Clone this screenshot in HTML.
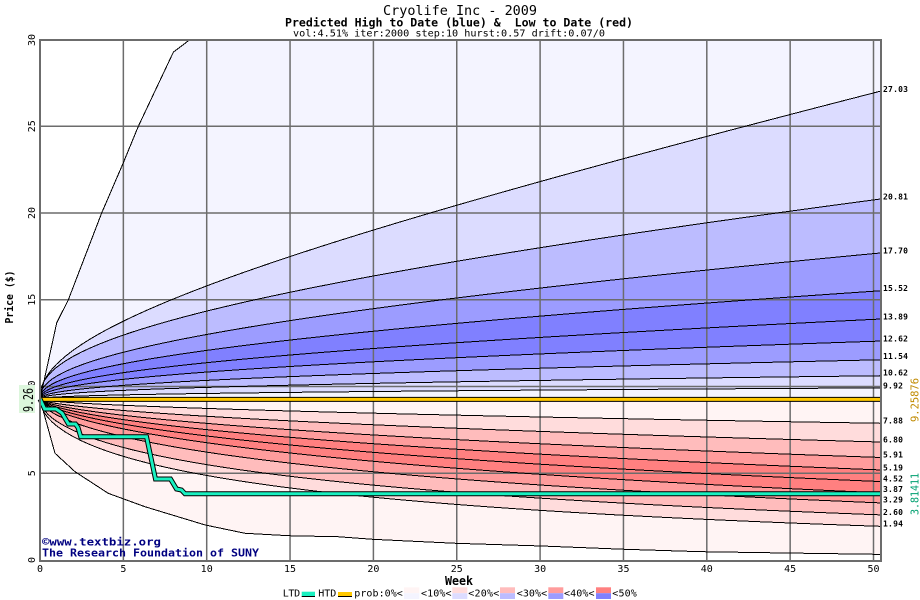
<!DOCTYPE html>
<html><head><meta charset="utf-8">
<style>
html,body{margin:0;padding:0;background:#fff;}
svg{display:block;}
text{font-family:"DejaVu Sans Mono","Liberation Mono",monospace;}
</style></head><body>
<svg id="c" xmlns="http://www.w3.org/2000/svg" width="920" height="600" viewBox="0 0 920 600">
<defs><clipPath id="pc"><rect x="40" y="40" width="841" height="520"/></clipPath></defs>
<rect width="920" height="600" fill="#fff"/>
<g id="fills" clip-path="url(#pc)"></g>
<g id="grid" stroke="#6c6c6c" stroke-width="1.5">
<line x1="123.35" y1="40" x2="123.35" y2="560"/>
<line x1="206.7" y1="40" x2="206.7" y2="560"/>
<line x1="290.05" y1="40" x2="290.05" y2="560"/>
<line x1="373.4" y1="40" x2="373.4" y2="560"/>
<line x1="456.75" y1="40" x2="456.75" y2="560"/>
<line x1="540.1" y1="40" x2="540.1" y2="560"/>
<line x1="623.45" y1="40" x2="623.45" y2="560"/>
<line x1="706.8" y1="40" x2="706.8" y2="560"/>
<line x1="790.15" y1="40" x2="790.15" y2="560"/>
<line x1="873.5" y1="40" x2="873.5" y2="560"/>
<line x1="40" y1="473.25" x2="881" y2="473.25"/>
<line x1="40" y1="386.5" x2="881" y2="386.5"/>
<line x1="40" y1="299.75" x2="881" y2="299.75"/>
<line x1="40" y1="213" x2="881" y2="213"/>
<line x1="40" y1="126.25" x2="881" y2="126.25"/>
</g>
<g id="curves" clip-path="url(#pc)" fill="none" stroke="#000" stroke-width="1" shape-rendering="crispEdges"></g>
<line x1="40" y1="399.4" x2="881" y2="399.4" stroke="#000" stroke-width="5"/>
<line x1="40" y1="399.4" x2="881" y2="399.4" stroke="#ffc800" stroke-width="3"/>
<polyline fill="none" stroke="#000" stroke-width="5" points="40,399 44.7,409 56,409 62,413 68.5,424 75.5,424 78,427.5 80.7,436.7 146.5,436.7 155.5,479 170.5,479 176.5,489 181.5,490 185,493.8 881,493.8"/>
<polyline fill="none" stroke="#18f0c0" stroke-width="3" points="40,399 44.7,409 56,409 62,413 68.5,424 75.5,424 78,427.5 80.7,436.7 146.5,436.7 155.5,479 170.5,479 176.5,489 181.5,490 185,493.8 881,493.8"/>
<rect x="40" y="40" width="841" height="521" fill="none" stroke="#6c6c6c" stroke-width="2"/>

<!-- title -->
<text x="460" y="15" text-anchor="middle" font-size="13.5" textLength="154" lengthAdjust="spacingAndGlyphs">Cryolife Inc - 2009</text>
<text x="459" y="26.5" text-anchor="middle" font-size="11.5" font-weight="bold" textLength="348" lengthAdjust="spacingAndGlyphs" style="white-space:pre">Predicted High to Date (blue) &amp;  Low to Date (red)</text>
<text x="449" y="36.5" text-anchor="middle" font-size="10" textLength="312" lengthAdjust="spacingAndGlyphs">vol:4.51% iter:2000 step:10 hurst:0.57 drift:0.07/0</text>

<!-- y ticks -->
<g font-size="10" text-anchor="middle">
<text transform="translate(35,40) rotate(-90)">30</text>
<text transform="translate(35,126.25) rotate(-90)">25</text>
<text transform="translate(35,213) rotate(-90)">20</text>
<text transform="translate(35,299.75) rotate(-90)">15</text>
<text transform="translate(35,386.5) rotate(-90)">10</text>
<text transform="translate(35,473.25) rotate(-90)">5</text>
<text transform="translate(35,560) rotate(-90)">0</text>
</g>
<rect x="19" y="385" width="16" height="28" fill="#dcf6dc"/>
<text transform="translate(33,400) rotate(-90)" text-anchor="middle" font-size="13" textLength="24" lengthAdjust="spacingAndGlyphs">9.26</text>
<text transform="translate(13,297) rotate(-90)" text-anchor="middle" font-size="11" font-weight="bold" textLength="53" lengthAdjust="spacingAndGlyphs">Price ($)</text>

<!-- x ticks -->
<g font-size="10" text-anchor="middle">
<text x="40" y="572">0</text>
<text x="123.35" y="572">5</text>
<text x="206.7" y="572">10</text>
<text x="290.05" y="572">15</text>
<text x="373.4" y="572">20</text>
<text x="456.75" y="572">25</text>
<text x="540.1" y="572">30</text>
<text x="623.45" y="572">35</text>
<text x="706.8" y="572">40</text>
<text x="790.15" y="572">45</text>
<text x="873.5" y="572">50</text>
</g>
<text x="459" y="585" text-anchor="middle" font-size="12" font-weight="bold" textLength="28" lengthAdjust="spacingAndGlyphs">Week</text>

<!-- right labels -->
<g font-size="8" font-weight="bold" lengthAdjust="spacingAndGlyphs">
<text x="883" y="92" textLength="25">27.03</text>
<text x="883" y="199.4" textLength="25">20.81</text>
<text x="883" y="253.7" textLength="25">17.70</text>
<text x="883" y="291" textLength="25">15.52</text>
<text x="883" y="319.7" textLength="25">13.89</text>
<text x="883" y="341.4" textLength="25">12.62</text>
<text x="883" y="359" textLength="25">11.54</text>
<text x="883" y="375.4" textLength="25">10.62</text>
<text x="883" y="388.4" textLength="20">9.92</text>
<text x="883" y="423.7" textLength="20">7.88</text>
<text x="883" y="442.7" textLength="20">6.80</text>
<text x="883" y="457.7" textLength="20">5.91</text>
<text x="883" y="470.4" textLength="20">5.19</text>
<text x="883" y="481.7" textLength="20">4.52</text>
<text x="883" y="492" textLength="20">3.87</text>
<text x="883" y="502.7" textLength="20">3.29</text>
<text x="883" y="515" textLength="20">2.60</text>
<text x="883" y="526.7" textLength="20">1.94</text>
</g>
<text transform="translate(918.5,400) rotate(-90)" text-anchor="middle" font-size="11" fill="#c08a00" textLength="44" lengthAdjust="spacingAndGlyphs">9.25876</text>
<text transform="translate(918.5,494) rotate(-90)" text-anchor="middle" font-size="11" fill="#00a070" textLength="42" lengthAdjust="spacingAndGlyphs">3.81411</text>

<!-- copyright -->
<text x="42" y="545.5" font-size="11" font-weight="bold" fill="#000080" textLength="119" lengthAdjust="spacingAndGlyphs">©www.textbiz.org</text>
<text x="42" y="556.5" font-size="11" font-weight="bold" fill="#000080" textLength="217" lengthAdjust="spacingAndGlyphs">The Research Foundation of SUNY</text>

<!-- legend -->
<g font-size="10" lengthAdjust="spacingAndGlyphs">
<text x="282.7" y="596.5" textLength="17.5">LTD</text>
<rect x="301.7" y="591.7" width="13.3" height="4.5" fill="#18f0c0"/>
<line x1="301.7" y1="596.5" x2="315" y2="596.5" stroke="#000" stroke-width="1"/>
<text x="318.3" y="596.5" textLength="18">HTD</text>
<rect x="338" y="592" width="14" height="4.5" fill="#ffc800"/>
<line x1="338" y1="596.5" x2="352" y2="596.5" stroke="#000" stroke-width="1"/>
<text x="354.3" y="596.5" textLength="48.5">prob:0%&lt;</text>
<rect x="404" y="587.3" width="15.3" height="5.9" fill="#fff4f4"/>
<rect x="404" y="593.2" width="15.3" height="5.8" fill="#f4f4ff"/>
<text x="421" y="596.5" textLength="30.5">&lt;10%&lt;</text>
<rect x="452.3" y="587.3" width="15" height="5.9" fill="#ffdcdc"/>
<rect x="452.3" y="593.2" width="15" height="5.8" fill="#dcdcff"/>
<text x="468.3" y="596.5" textLength="31">&lt;20%&lt;</text>
<rect x="500" y="587.3" width="15" height="5.9" fill="#ffbcbc"/>
<rect x="500" y="593.2" width="15" height="5.8" fill="#bcbcff"/>
<text x="516.7" y="596.5" textLength="30.5">&lt;30%&lt;</text>
<rect x="548.3" y="587.3" width="15" height="5.9" fill="#ff9c9c"/>
<rect x="548.3" y="593.2" width="15" height="5.8" fill="#9c9cff"/>
<text x="564" y="596.5" textLength="30.5">&lt;40%&lt;</text>
<rect x="596" y="587.3" width="15" height="5.9" fill="#ff8080"/>
<rect x="596" y="593.2" width="15" height="5.8" fill="#8080ff"/>
<text x="612.3" y="596.5" textLength="24.5">&lt;50%</text>
</g>
</svg>
<script>
(function(){
var NS='http://www.w3.org/2000/svg';
function X(t){return 40+16.67*t;}
function Y(v){return 560-17.35*v;}
var T=50.45,B=9.26;
var ts=[0,0.05,0.1,0.2,0.3,0.5,0.75];
for(var t=1;t<=50;t+=0.5)ts.push(t);
ts.push(T);
function logCurve(end,p){
  var L=Math.log(end/B);
  return ts.map(function(t){return [t,B*Math.exp(L*Math.pow(t/T,p))];});
}
var top=[[0,9.26],[1,13.66],[1.7,15.0],[3.7,20.0],[5,22.9],[5.9,25.0],[8,29.27],[9,30.0],[12,32],[T,45]];
var bot=[[0,9.26],[0.9,6.15],[2.1,5.09],[4.1,3.84],[6.3,3.07],[9.9,2.02],[12.3,1.54],[14.9,1.4],[17.9,1.34],[20,1.19],[25,0.96],[30,0.81],[35,0.62],[39.6,0.48],[45,0.4],[50,0.33],[T,0.32]];
var c10b='#f4f4ff',c20b='#dcdcff',c30b='#bcbcff',c40b='#9c9cff',c50b='#8080ff';
var c10r='#fff4f4',c20r='#ffdcdc',c30r='#ffbcbc',c40r='#ff9c9c',c50r='#ff8080';
var series=[
 {pts:top,fill:c10b},
 {pts:logCurve(27.03,0.43),fill:c20b},
 {pts:logCurve(20.81,0.38),fill:c30b},
 {pts:logCurve(17.70,0.40),fill:c40b},
 {pts:logCurve(15.52,0.41),fill:c50b},
 {pts:logCurve(13.89,0.42),fill:c50b},
 {pts:logCurve(12.62,0.42),fill:c40b},
 {pts:logCurve(11.54,0.42),fill:c30b},
 {pts:logCurve(10.62,0.40),fill:c20b},
 {pts:logCurve(9.92,0.40),fill:c10b},
 {pts:bot,fill:c10r},
 {pts:logCurve(1.94,0.55),fill:c20r},
 {pts:logCurve(2.60,0.55),fill:c30r},
 {pts:logCurve(3.29,0.59),fill:c40r},
 {pts:logCurve(3.87,0.63),fill:c50r},
 {pts:logCurve(4.52,0.63),fill:c50r},
 {pts:logCurve(5.19,0.63),fill:c40r},
 {pts:logCurve(5.91,0.63),fill:c30r},
 {pts:logCurve(6.80,0.63),fill:c20r},
 {pts:logCurve(7.88,0.63),fill:c10r}
];
var fills=document.getElementById('fills'),curves=document.getElementById('curves');
series.forEach(function(s){
  var str=s.pts.map(function(p){return X(p[0]).toFixed(2)+','+Y(p[1]).toFixed(2);}).join(' ');
  var poly=document.createElementNS(NS,'polygon');
  poly.setAttribute('points',str+' '+X(T).toFixed(2)+','+Y(B).toFixed(2)+' '+X(0)+','+Y(B).toFixed(2));
  poly.setAttribute('fill',s.fill);
  fills.appendChild(poly);
  var pl=document.createElementNS(NS,'polyline');
  pl.setAttribute('points',str);
  curves.appendChild(pl);
});
})();
</script>
</body></html>
